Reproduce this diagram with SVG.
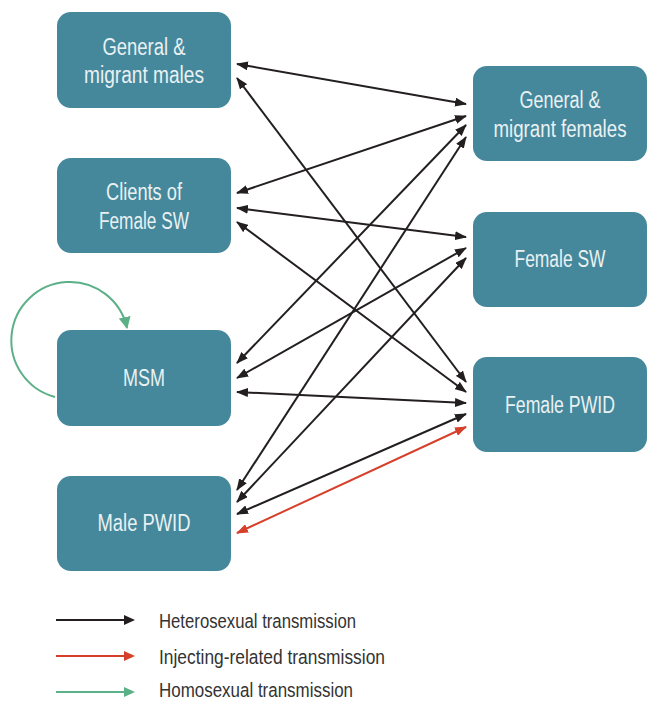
<svg xmlns="http://www.w3.org/2000/svg" width="648" height="701" viewBox="0 0 648 701">
<style>
.node rect{fill:#45889b}
.node text{fill:#e9f1f3;font-family:"Liberation Sans",Arial,sans-serif;font-size:23px;text-anchor:middle}
.edge{fill:none;stroke:#231f20;stroke-width:2;marker-start:url(#ab);marker-end:url(#ab)}
.red{fill:none;stroke:#d6402b;stroke-width:2;marker-start:url(#ar);marker-end:url(#ar)}
.green{fill:none;stroke:#5cb087;stroke-width:2;marker-end:url(#ag)}
.leg text{fill:#333333;font-family:"Liberation Sans",Arial,sans-serif;font-size:20.5px}
</style>
<defs>
<marker id="ab" viewBox="0 0 12 9" markerUnits="userSpaceOnUse" markerWidth="12" markerHeight="9" refX="11" refY="4.5" orient="auto-start-reverse"><path d="M0,0 L12,4.5 L0,9 z" fill="#231f20"/></marker>
<marker id="ar" viewBox="0 0 12 9" markerUnits="userSpaceOnUse" markerWidth="12" markerHeight="9" refX="11" refY="4.5" orient="auto-start-reverse"><path d="M0,0 L12,4.5 L0,9 z" fill="#d6402b"/></marker>
<marker id="ag" viewBox="0 0 12 12" markerUnits="userSpaceOnUse" markerWidth="12" markerHeight="12" refX="11" refY="6" orient="auto"><path d="M0,0 L12,6 L0,12 z" fill="#5cb087"/></marker>
</defs>

<g id="connectors">
<path class="green" d="M55,397 A58.5,58.5 0 1 1 127,328"/>
<path class="edge" d="M237,64 L466,104"/>
<path class="edge" d="M237,78 L466,382"/>
<path class="edge" d="M237,193 L466,116"/>
<path class="edge" d="M237,208 L466,237"/>
<path class="edge" d="M237,222 L466,392"/>
<path class="edge" d="M237,363 L466,125"/>
<path class="edge" d="M237,378 L466,248"/>
<path class="edge" d="M237,392 L466,403"/>
<path class="edge" d="M237,490 L466,137"/>
<path class="edge" d="M237,502 L466,258"/>
<path class="edge" d="M237,514 L466,414"/>
<path class="red" d="M237,533 L466,427"/>
</g>

<g id="n-gen-males" class="node"><rect x="57" y="12" width="174" height="96" rx="14"/><text x="144" y="55" textLength="83" lengthAdjust="spacingAndGlyphs">General &amp;</text><text x="144" y="83" textLength="120" lengthAdjust="spacingAndGlyphs">migrant males</text></g>
<g id="n-clients" class="node"><rect x="57" y="158" width="174" height="95" rx="14"/><text x="144" y="200" textLength="76" lengthAdjust="spacingAndGlyphs">Clients of</text><text x="144" y="229" textLength="90" lengthAdjust="spacingAndGlyphs">Female SW</text></g>
<g id="n-msm" class="node"><rect x="57" y="330" width="174" height="96" rx="14"/><text x="144" y="386" textLength="42" lengthAdjust="spacingAndGlyphs">MSM</text></g>
<g id="n-male-pwid" class="node"><rect x="57" y="476" width="174" height="95" rx="14"/><text x="144" y="531" textLength="93" lengthAdjust="spacingAndGlyphs">Male PWID</text></g>
<g id="n-gen-females" class="node"><rect x="473" y="66" width="174" height="95" rx="14"/><text x="560" y="108" textLength="81" lengthAdjust="spacingAndGlyphs">General &amp;</text><text x="560" y="137" textLength="133" lengthAdjust="spacingAndGlyphs">migrant females</text></g>
<g id="n-female-sw" class="node"><rect x="473" y="212" width="174" height="95" rx="14"/><text x="560" y="267" textLength="91" lengthAdjust="spacingAndGlyphs">Female SW</text></g>
<g id="n-female-pwid" class="node"><rect x="473" y="357" width="174" height="95" rx="14"/><text x="560" y="413" textLength="110" lengthAdjust="spacingAndGlyphs">Female PWID</text></g>

<g id="legend" class="leg">
<line x1="56" y1="620" x2="130" y2="620" stroke="#231f20" stroke-width="2"/><path d="M124,615 L135,620 L124,625 z" fill="#231f20"/>
<text x="159" y="628" textLength="197" lengthAdjust="spacingAndGlyphs">Heterosexual transmission</text>
<line x1="56" y1="656" x2="130" y2="656" stroke="#d6402b" stroke-width="2"/><path d="M124,651 L135,656 L124,661 z" fill="#d6402b"/>
<text x="159" y="664" textLength="226" lengthAdjust="spacingAndGlyphs">Injecting-related transmission</text>
<line x1="56" y1="692" x2="130" y2="692" stroke="#5cb087" stroke-width="2"/><path d="M124,687 L135,692 L124,697 z" fill="#5cb087"/>
<text x="159" y="697" textLength="194" lengthAdjust="spacingAndGlyphs">Homosexual transmission</text>
</g>
</svg>
